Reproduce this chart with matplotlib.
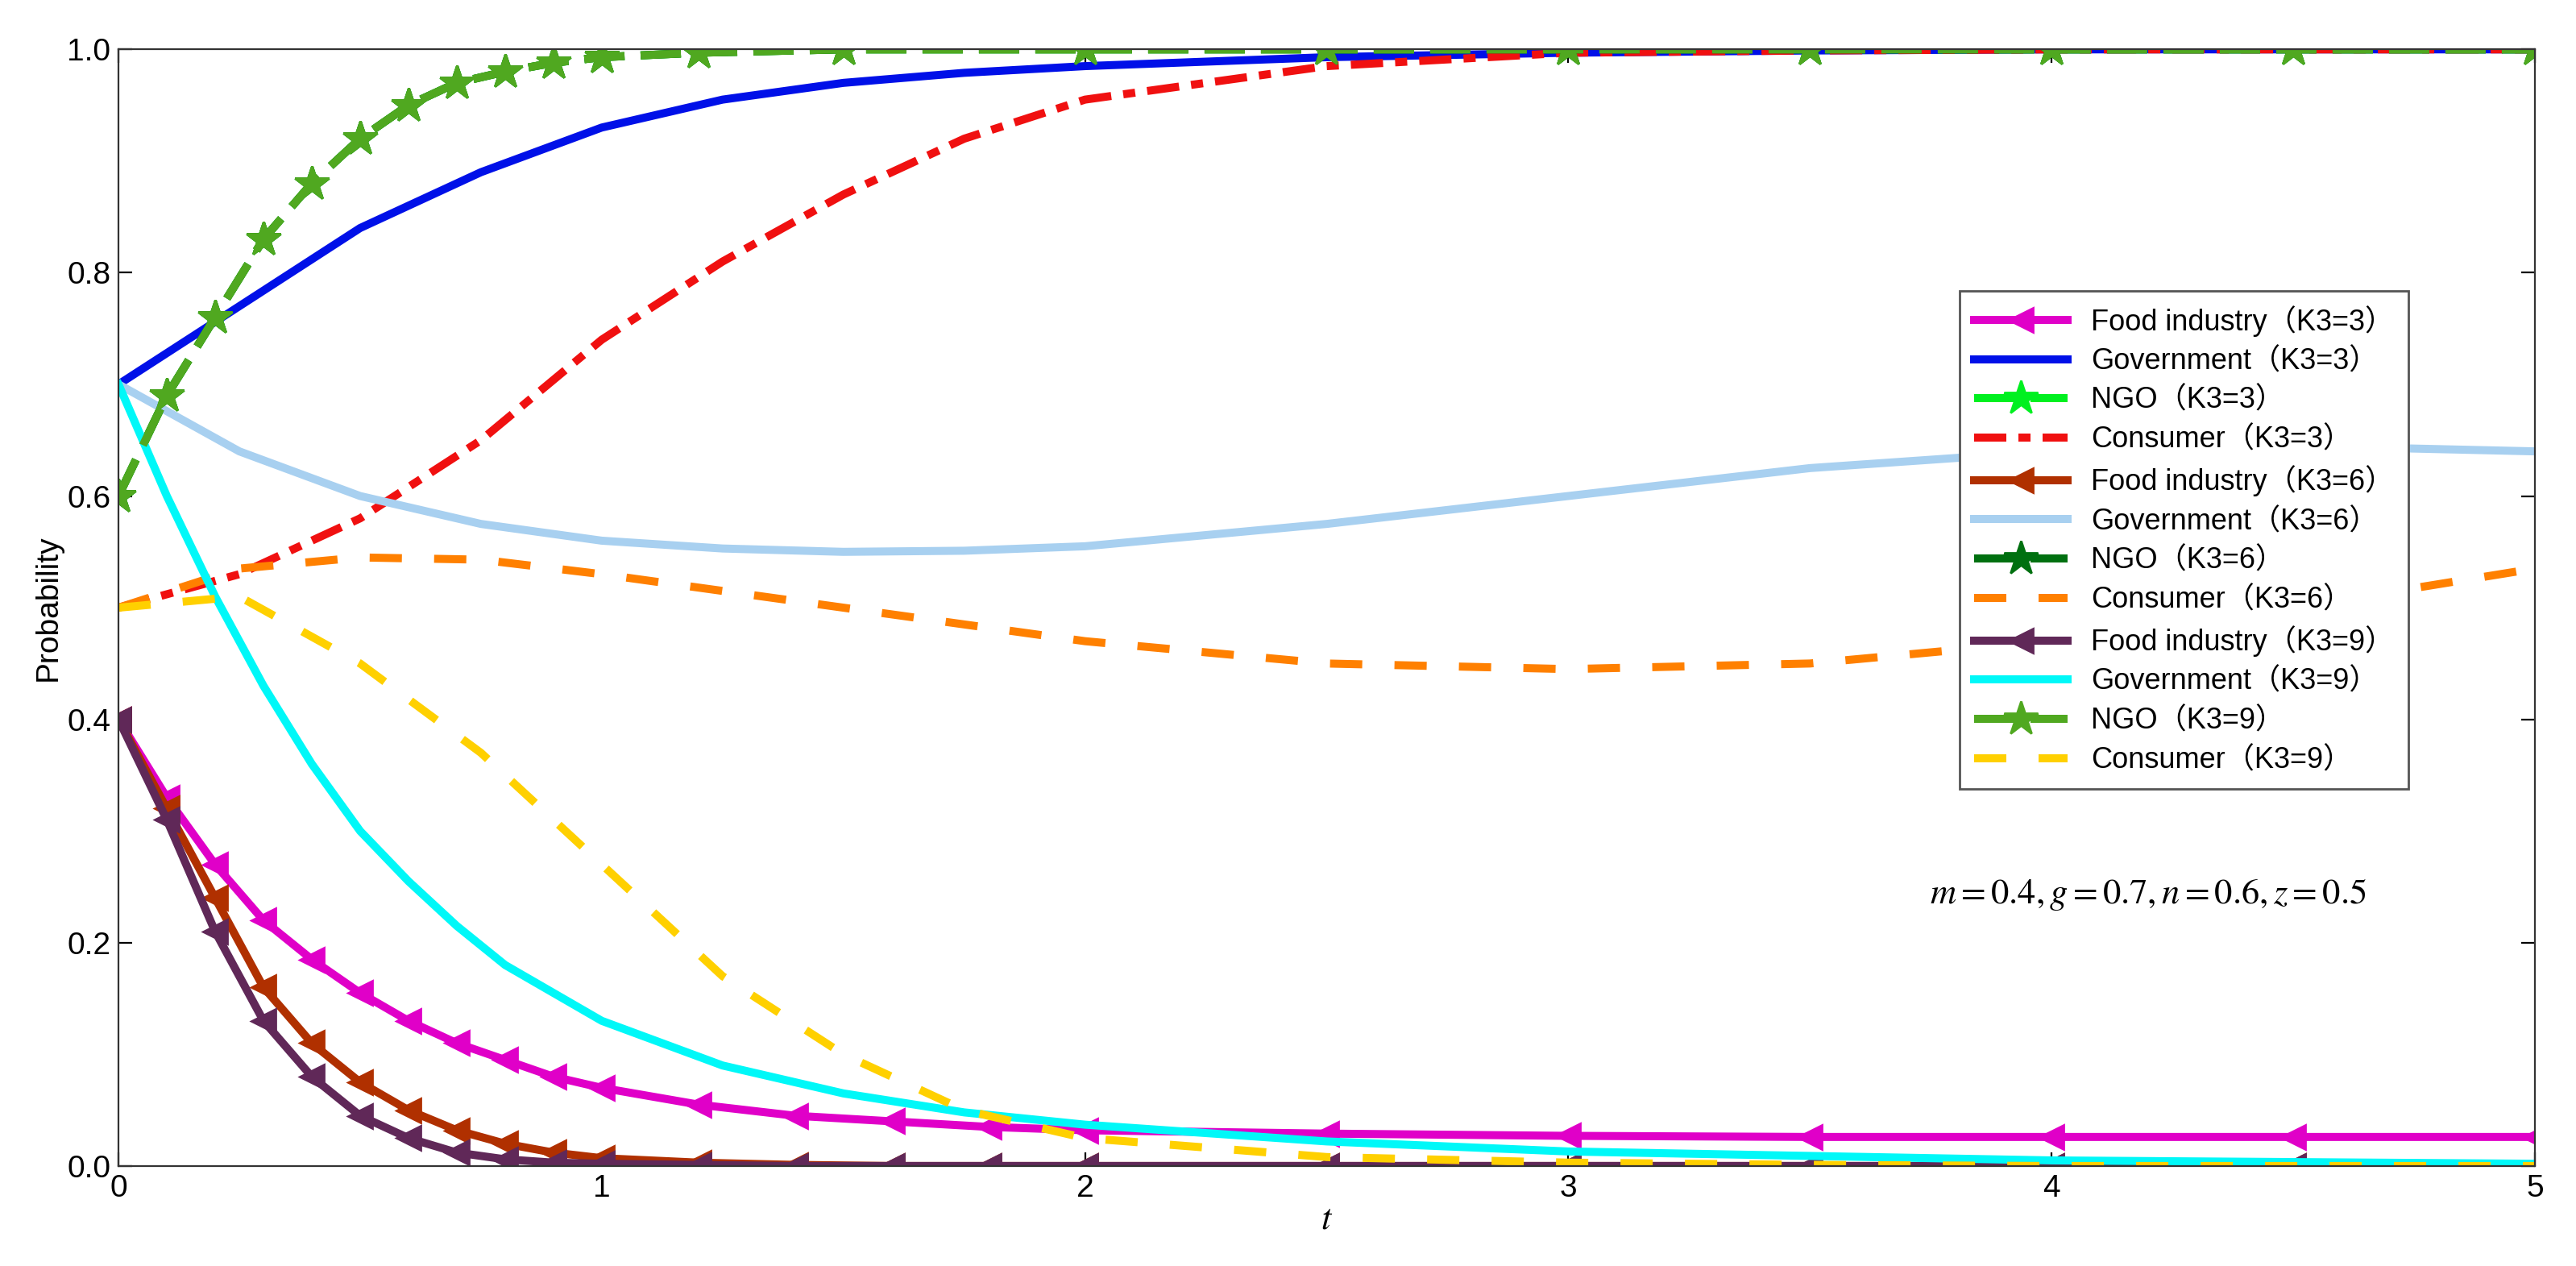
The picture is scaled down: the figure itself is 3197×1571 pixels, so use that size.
import matplotlib
matplotlib.use("Agg")
import matplotlib.pyplot as plt

plt.rcParams['font.family'] = ['Liberation Sans', 'Noto Sans CJK SC', 'DejaVu Sans']
plt.rcParams['mathtext.fontset'] = 'stix'

t_food = [0, 0.1, 0.2, 0.3, 0.4, 0.5, 0.6, 0.7, 0.8, 0.9, 1.0, 1.2, 1.4, 1.6, 1.8, 2.0, 2.5, 3.0, 3.5, 4.0, 4.5, 5.0]
food3 = [0.4, 0.33, 0.27, 0.22, 0.185, 0.155, 0.13, 0.11, 0.095, 0.08, 0.07, 0.055, 0.045, 0.04, 0.035, 0.032, 0.029, 0.027, 0.026, 0.026, 0.026, 0.026]
food6 = [0.4, 0.32, 0.24, 0.16, 0.11, 0.075, 0.05, 0.032, 0.02, 0.012, 0.007, 0.003, 0.001, 0, 0, 0, 0, 0, 0, 0, 0, 0]
food9 = [0.4, 0.31, 0.21, 0.13, 0.08, 0.045, 0.025, 0.012, 0.006, 0.003, 0.002, 0.001, 0, 0, 0, 0, 0, 0, 0, 0, 0, 0]

t_ngo = [0, 0.1, 0.2, 0.3, 0.4, 0.5, 0.6, 0.7, 0.8, 0.9, 1.0, 1.2, 1.5, 2.0, 2.5, 3.0, 3.5, 4.0, 4.5, 5.0]
ngo = [0.6, 0.69, 0.76, 0.83, 0.88, 0.92, 0.95, 0.97, 0.98, 0.988, 0.993, 0.997, 1.0, 1.0, 1.0, 1.0, 1.0, 1.0, 1.0, 1.0]

t_q = [0, 0.25, 0.5, 0.75, 1.0, 1.25, 1.5, 1.75, 2.0, 2.5, 3.0, 3.5, 4.0, 4.5, 5.0]
gov3 = [0.7, 0.77, 0.84, 0.89, 0.93, 0.955, 0.97, 0.979, 0.985, 0.993, 0.997, 0.999, 1.0, 1.0, 1.0]
con3 = [0.5, 0.53, 0.58, 0.65, 0.74, 0.81, 0.87, 0.92, 0.955, 0.985, 0.997, 0.999, 1.0, 1.0, 1.0]
gov6 = [0.7, 0.64, 0.6, 0.575, 0.56, 0.553, 0.55, 0.551, 0.555, 0.575, 0.6, 0.625, 0.64, 0.645, 0.64]
con6 = [0.5, 0.535, 0.545, 0.543, 0.53, 0.515, 0.5, 0.485, 0.47, 0.45, 0.445, 0.45, 0.47, 0.5, 0.535]
con9 = [0.5, 0.51, 0.45, 0.37, 0.27, 0.17, 0.1, 0.05, 0.025, 0.008, 0.003, 0.001, 0, 0, 0]

t_g9 = [0, 0.1, 0.2, 0.3, 0.4, 0.5, 0.6, 0.7, 0.8, 0.9, 1.0, 1.25, 1.5, 1.75, 2.0, 2.5, 3.0, 4.0, 5.0]
gov9 = [0.7, 0.6, 0.51, 0.43, 0.36, 0.3, 0.255, 0.215, 0.18, 0.155, 0.13, 0.09, 0.065, 0.048, 0.037, 0.022, 0.013, 0.005, 0.002]

fig = plt.figure(figsize=(15.985, 7.855), dpi=200)
ax = fig.add_axes([0.046, 0.079, 0.938, 0.882])
lw = 3.6
fm = dict(marker='<', ms=11)
sm = dict(marker='*', ms=16)
ax.plot(t_food, food3, color='#E000C8', lw=lw, label='Food industry（K3=3）', **fm)
ax.plot(t_q, gov3, color='#0010E8', lw=lw, label='Government（K3=3）')
ax.plot(t_ngo, ngo, color='#00F020', lw=lw, ls=(0, (5, 2)), label='NGO（K3=3）', **sm)
ax.plot(t_q, con3, color='#F01010', lw=lw, ls=(0, (4, 1.5, 1.5, 1.5)), label='Consumer（K3=3）')
ax.plot(t_food, food6, color='#B03000', lw=lw, label='Food industry（K3=6）', **fm)
ax.plot(t_q, gov6, color='#A8D0F0', lw=lw, label='Government（K3=6）')
ax.plot(t_ngo, ngo, color='#007010', lw=lw, ls=(0, (5, 2)), label='NGO（K3=6）', **sm)
ax.plot(t_q, con6, color='#FF8000', lw=lw, ls=(0, (4, 4)), label='Consumer（K3=6）')
ax.plot(t_food, food9, color='#602858', lw=lw, label='Food industry（K3=9）', **fm)
ax.plot(t_g9, gov9, color='#00F8F8', lw=lw, label='Government（K3=9）')
ax.plot(t_ngo, ngo, color='#50A820', lw=lw, ls=(0, (5, 2)), label='NGO（K3=9）', **sm)
ax.plot(t_q, con9, color='#FFD000', lw=lw, ls=(0, (4, 4)), label='Consumer（K3=9）')

ax.set_xlim(0, 5)
ax.set_ylim(0, 1)
ax.set_xticks([0, 1, 2, 3, 4, 5])
ax.set_yticks([0, 0.2, 0.4, 0.6, 0.8, 1.0])
ax.set_yticklabels(['0.0', '0.2', '0.4', '0.6', '0.8', '1.0'])
ax.tick_params(direction='in', labelsize=14, length=6, top=True, right=True)
for s in ax.spines.values():
    s.set_color('#333333')
ax.set_xlabel('$t$', fontsize=16, labelpad=0)
ax.set_ylabel('Probability', fontsize=14, labelpad=2)
ax.text(4.2, 0.243, '$m=0.4, g=0.7, n=0.6, z=0.5$', fontsize=16, ha='center', va='center')
leg = ax.legend(loc='upper left', bbox_to_anchor=(0.756, 0.797), fontsize=13, fancybox=False,
                framealpha=1, edgecolor='#555555', handlelength=3.2, labelspacing=0.38,
                borderpad=0.5)
fig.savefig('out.png', dpi=200)
